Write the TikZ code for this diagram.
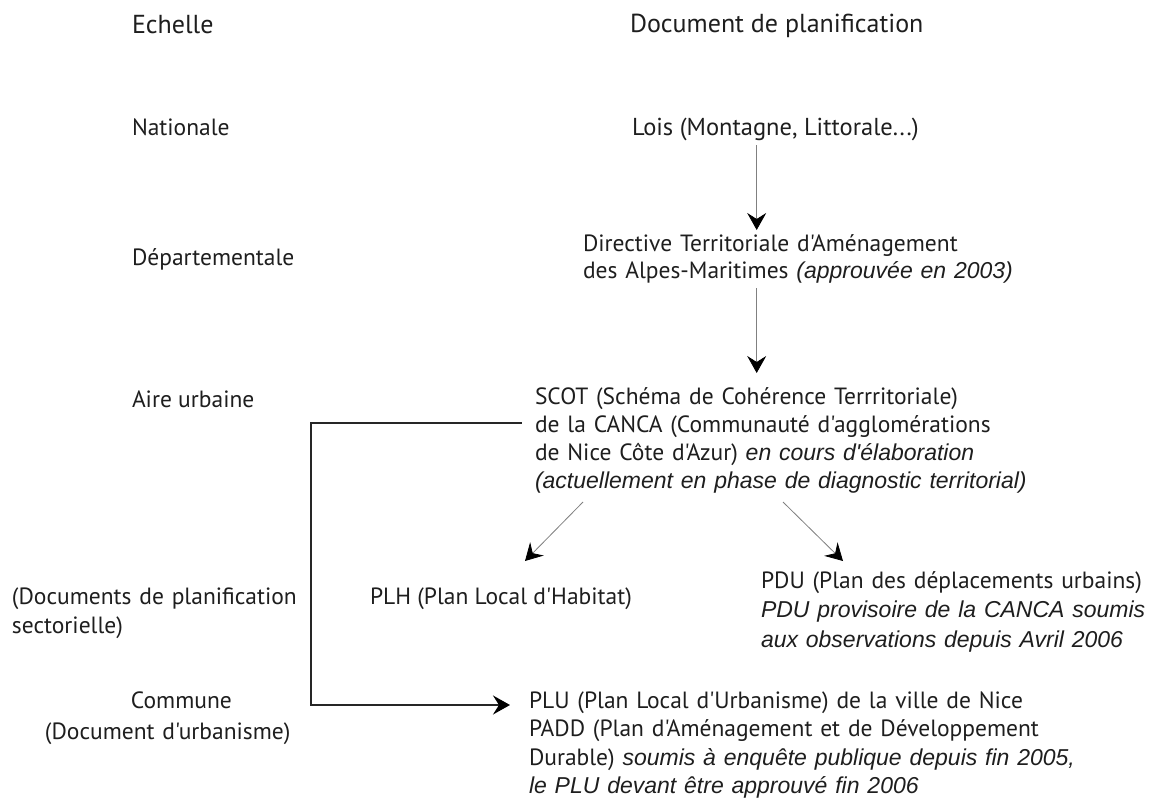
\documentclass[tikz,border=0pt]{standalone}
\usepackage{fontspec}
\setmainfont{PT Sans}[Ligatures=TeXOff]
\newfontfamily\arialf{Liberation Sans}[Ligatures=TeXOff]
\usetikzlibrary{arrows.meta}
\definecolor{txtc}{HTML}{1E1E1E}
\definecolor{arrc}{HTML}{808080}
\newcommand\itx[1]{{\arialf\itshape\fontsize{23}{28}\selectfont #1}}
\begin{document}
\begin{tikzpicture}[x=1pt,y=-1pt,
  lbl/.style={anchor=base west, inner sep=0pt, outer sep=0pt, text=txtc, font=\fontsize{23.5}{28}\selectfont},
  head/.style={lbl, font=\fontsize{26}{30}\selectfont},
  para/.style={lbl, text width=640pt, align=left},
  thinarrow/.style={draw=arrc, line width=0.8pt, -{Stealth[length=17pt,width=19pt,inset=6pt,color=black]}},
  thickarrow/.style={draw=black!85, line width=1.8pt, -{Stealth[length=17pt,width=19pt,inset=6pt,color=black]}}]
\useasboundingbox[fill=white] (0,0) rectangle (1163,803);
% left column
\node[head] (echelle) at (132,33) {Echelle};
\node[lbl] (nat) at (132,135) {Nationale};
\node[lbl] (dep) at (132,265) {Départementale};
\node[lbl] (aire) at (132,407) {Aire urbaine};
\node[para, font=\fontsize{23.5}{29}\selectfont] (sect) at (12,604) {(Documents de planification\\sectorielle)};
\node[para, font=\fontsize{23.5}{31}\selectfont] (comm) at (45,708) {\hspace*{86pt}Commune\\(Document d'urbanisme)};
% right column
\node[head] (doc) at (630,32) {Document de planification};
\node[lbl, font=\fontsize{24.5}{28}\selectfont] (lois) at (632,135) {Lois (Montagne, Littorale...)};
\node[para, font=\fontsize{23.5}{27.5}\selectfont] (dta) at (583,251) {Directive Territoriale d'Aménagement\\des Alpes-Maritimes \itx{(approuvée en 2003)}};
\node[para] (scot) at (535,404) {SCOT (Schéma de Cohérence Terrritoriale)\\de la CANCA (Communauté d'agglomérations\\de Nice Côte d'Azur) \itx{en cours d'élaboration}\\\itx{(actuellement en phase de diagnostic territorial)}};
\node[lbl] (plh) at (370,604) {PLH (Plan Local d'Habitat)};
\node[para, font=\fontsize{23.5}{29.5}\selectfont] (pdu) at (761,588) {PDU (Plan des déplacements urbains)\\\itx{PDU provisoire de la CANCA soumis}\\\itx{aux observations depuis Avril 2006}};
\node[para, font=\fontsize{23.5}{28.5}\selectfont] (plu) at (529,708) {PLU (Plan Local d'Urbanisme) de la ville de Nice\\PADD (Plan d'Aménagement et de Développement\\Durable) \itx{soumis à enquête publique depuis fin 2005,}\\\itx{le PLU devant être approuvé fin 2006}};
% connector end points
\coordinate (a1s) at (756.7,145);
\coordinate (a1e) at (756.7,230);
\coordinate (a2s) at (756.7,288);
\coordinate (a2e) at (756.7,373);
\coordinate (a3s) at (583,502);
\coordinate (a3e) at (525,561);
\coordinate (a4s) at (783,502);
\coordinate (a4e) at (843,561);
\coordinate (e0) at (521.7,423);
\coordinate (e1) at (311,423);
\coordinate (e2) at (311,705);
\coordinate (e3) at (510,705);
\draw[thinarrow] (a1s) -- (a1e);
\draw[thinarrow] (a2s) -- (a2e);
\draw[thinarrow] (a3s) -- (a3e);
\draw[thinarrow] (a4s) -- (a4e);
\draw[thickarrow] (e0) -- (e1) -- (e2) -- (e3);
\end{tikzpicture}
\end{document}
